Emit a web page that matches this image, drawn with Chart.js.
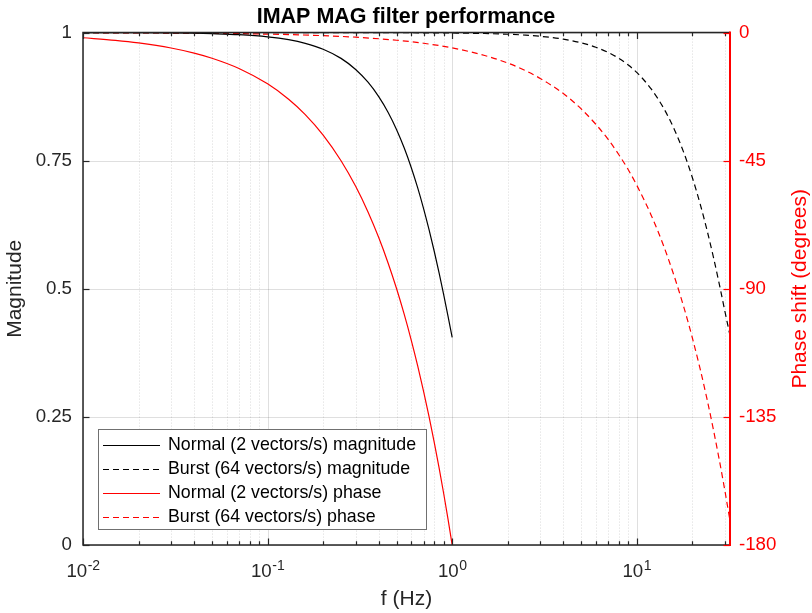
<!DOCTYPE html>
<html>
<head>
<meta charset="utf-8">
<title>IMAP MAG filter performance</title>
<script src="https://cdn.jsdelivr.net/npm/chart.js@4.4.1/dist/chart.umd.min.js"></script>
<style>
  html, body { margin: 0; padding: 0; background: #fff; }
  #wrap { width: 812px; height: 613px; position: relative; }
</style>
</head>
<body>
<div id="wrap"><canvas id="filterChart"></canvas></div>
<script>
// normal mode, 2 vectors/s (Nyquist 1 Hz)
const normalFreq = [0.01, 0.015, 0.02, 0.03, 0.04, 0.05, 0.07, 0.1, 0.13, 0.16, 0.2, 0.25, 0.3, 0.35,
  0.4, 0.45, 0.5, 0.55, 0.6, 0.65, 0.7, 0.75, 0.8, 0.85, 0.9, 0.95, 1.0];
const normalMag = [1.000, 0.9998, 0.9997, 0.9993, 0.9987, 0.9979, 0.9960, 0.9918, 0.9862, 0.9791, 0.9675,
  0.9497, 0.9281, 0.9032, 0.8751, 0.8442, 0.8106, 0.7747, 0.7368, 0.6974, 0.6566, 0.6150, 0.5728,
  0.5304, 0.4881, 0.4463, 0.4053];
const normalPhase = [-1.8, -2.7, -3.6, -5.4, -7.2, -9, -12.6, -18, -23.4, -28.8, -36, -45, -54, -63,
  -72, -81, -90, -99, -108, -117, -126, -135, -144, -153, -162, -171, -180];

// burst mode, 64 vectors/s (Nyquist 32 Hz)
const burstFreq = [0.01, 0.02, 0.05, 0.1, 0.2, 0.3, 0.5, 0.7, 1, 1.5, 2, 2.5, 3, 4, 5, 6, 7, 8, 9, 10,
  12, 14, 16, 18, 20, 22, 24, 26, 28, 30, 32];
const burstMag = [1, 1, 1, 1, 1, 1, 0.9998, 0.9996, 0.9992, 0.9982, 0.9968, 0.9950, 0.9928, 0.9872,
  0.9801, 0.9714, 0.9613, 0.9497, 0.9366, 0.9223, 0.8895, 0.8522, 0.8106, 0.7654, 0.7173, 0.6669,
  0.6150, 0.5622, 0.5092, 0.4567, 0.409];
const burstPhase = [-0.05, -0.11, -0.27, -0.54, -1.07, -1.61, -2.68, -3.75, -5.36, -8.04, -10.7, -13.4,
  -16.1, -21.4, -26.8, -32.2, -37.5, -42.9, -48.2, -53.6, -64.3, -75.0, -85.8, -96.5, -107.2, -117.9,
  -128.6, -139.4, -150.1, -160.8, -171.5];

const seriesLabels = [
  "Normal (2 vectors/s) magnitude",
  "Burst (64 vectors/s) magnitude",
  "Normal (2 vectors/s) phase",
  "Burst (64 vectors/s) phase"
];
const xTickExps = [-2, -1, 0, 1];
const magTicks = [0, 0.25, 0.5, 0.75, 1];
const phaseTicks = [-180, -135, -90, -45, 0];

const FONT = "'Liberation Sans', Arial, Helvetica, sans-serif";
const AXIS_GREY = "#262626";
const RED = "#ff0000";

const toPoints = (xs, ys) => xs.map((x, i) => ({ x: x, y: ys[i] }));

// every 1..9 x 10^n value inside the x range
function logSteps(scale) {
  const out = [];
  for (let e = -3; e <= 2; e++) {
    for (let m = 1; m <= 9; m++) {
      const v = m * Math.pow(10, e);
      if (v >= scale.min * 0.999 && v <= scale.max * 1.001) out.push({ v: v, major: m === 1 });
    }
  }
  return out;
}

// matlab-like box: grid under data, inward ticks, framed legend
const matlabAxes = {
  id: "matlabAxes",
  beforeDatasetsDraw(chart) {
    const { ctx, chartArea: a, scales: { x, y } } = chart;
    ctx.save();
    ctx.lineWidth = 1;
    // minor grid, dotted
    ctx.strokeStyle = "rgba(38,38,38,0.17)";
    ctx.setLineDash([1, 2]);
    logSteps(x).filter(s => !s.major).forEach(s => {
      const px = Math.round(x.getPixelForValue(s.v)) + 0.5;
      ctx.beginPath(); ctx.moveTo(px, a.top); ctx.lineTo(px, a.bottom); ctx.stroke();
    });
    // major grid
    ctx.setLineDash([]);
    ctx.strokeStyle = "rgba(38,38,38,0.15)";
    logSteps(x).filter(s => s.major).forEach(s => {
      const px = Math.round(x.getPixelForValue(s.v)) + 0.5;
      ctx.beginPath(); ctx.moveTo(px, a.top); ctx.lineTo(px, a.bottom); ctx.stroke();
    });
    magTicks.forEach(v => {
      const py = Math.round(y.getPixelForValue(v)) + 0.5;
      ctx.beginPath(); ctx.moveTo(a.left, py); ctx.lineTo(a.right, py); ctx.stroke();
    });
    ctx.restore();
  },
  afterDatasetsDraw(chart) {
    const { ctx, chartArea: a, scales: { x, y, y1 } } = chart;
    ctx.save();
    ctx.setLineDash([]);
    // frame
    ctx.strokeStyle = AXIS_GREY;
    ctx.lineWidth = 1.5;
    ctx.beginPath();
    ctx.moveTo(a.right, a.top); ctx.lineTo(a.left, a.top);
    ctx.lineTo(a.left, a.bottom); ctx.lineTo(a.right, a.bottom);
    ctx.stroke();
    // x ticks, top and bottom
    ctx.lineWidth = 1.2;
    logSteps(x).forEach(s => {
      const px = Math.round(x.getPixelForValue(s.v)) + 0.5;
      const len = s.major ? 6.5 : 3.7;
      ctx.beginPath();
      ctx.moveTo(px, a.bottom); ctx.lineTo(px, a.bottom - len);
      ctx.moveTo(px, a.top); ctx.lineTo(px, a.top + len);
      ctx.stroke();
    });
    // left ticks
    magTicks.forEach(v => {
      const py = Math.round(y.getPixelForValue(v)) + 0.5;
      ctx.beginPath(); ctx.moveTo(a.left, py); ctx.lineTo(a.left + 6.5, py); ctx.stroke();
    });
    // right axis in red
    ctx.strokeStyle = RED;
    ctx.lineWidth = 2;
    ctx.beginPath(); ctx.moveTo(a.right, a.top - 1); ctx.lineTo(a.right, a.bottom + 1); ctx.stroke();
    ctx.lineWidth = 1.2;
    phaseTicks.forEach(v => {
      const py = Math.round(y1.getPixelForValue(v)) + 0.5;
      ctx.beginPath(); ctx.moveTo(a.right, py); ctx.lineTo(a.right - 6.5, py); ctx.stroke();
    });

    // legend
    const lx = Math.round(a.left) + 15, ly = Math.round(a.bottom) - 116, lw = 328, lh = 100;
    ctx.fillStyle = "#ffffff";
    ctx.fillRect(lx, ly, lw, lh);
    ctx.strokeStyle = "#707070";
    ctx.lineWidth = 1;
    ctx.strokeRect(lx + 0.5, ly + 0.5, lw, lh);
    ctx.font = "17.8px " + FONT;
    ctx.textBaseline = "middle";
    ctx.textAlign = "left";
    chart.data.datasets.forEach((ds, i) => {
      const ry = ly + 16 + i * 24 + 0.5;
      ctx.strokeStyle = ds.borderColor;
      ctx.lineWidth = ds.borderWidth;
      ctx.setLineDash(ds.borderDash || []);
      ctx.beginPath(); ctx.moveTo(lx + 5, ry); ctx.lineTo(lx + 62, ry); ctx.stroke();
      ctx.fillStyle = "#000000";
      ctx.fillText(ds.label, lx + 70, ry);
    });
    ctx.restore();
  },
  afterDraw(chart) {
    const { ctx, chartArea: a, scales: { x } } = chart;
    ctx.save();
    // x tick labels as 10^n
    ctx.fillStyle = AXIS_GREY;
    ctx.textBaseline = "alphabetic";
    ctx.textAlign = "left";
    const baseFont = "18.7px " + FONT, expFont = "14px " + FONT;
    xTickExps.forEach(p => {
      const px = x.getPixelForValue(Math.pow(10, p));
      const expText = String(p);
      ctx.font = baseFont;
      const wBase = ctx.measureText("10").width;
      ctx.font = expFont;
      const wExp = ctx.measureText(expText).width;
      const start = px - (wBase + wExp) / 2;
      ctx.font = baseFont;
      ctx.fillText("10", start, a.bottom + 32);
      ctx.font = expFont;
      ctx.fillText(expText, start + wBase + 0.5, a.bottom + 25);
    });
    // right axis title, reading bottom to top
    ctx.fillStyle = RED;
    ctx.font = "21px " + FONT;
    ctx.textAlign = "center";
    ctx.textBaseline = "middle";
    ctx.translate(chart.width - 12, (a.top + a.bottom) / 2);
    ctx.rotate(-Math.PI / 2);
    ctx.fillText("Phase shift (degrees)", 0, 0);
    ctx.restore();
  }
};

new Chart(document.getElementById("filterChart"), {
  type: "line",
  data: {
    datasets: [
      {
        label: seriesLabels[0],
        data: toPoints(normalFreq, normalMag),
        yAxisID: "y",
        borderColor: "#000000",
        borderWidth: 1.2,
      },
      {
        label: seriesLabels[1],
        data: toPoints(burstFreq, burstMag),
        yAxisID: "y",
        borderColor: "#000000",
        borderWidth: 1.2,
        borderDash: [6, 4],
      },
      {
        label: seriesLabels[2],
        data: toPoints(normalFreq, normalPhase),
        yAxisID: "y1",
        borderColor: RED,
        borderWidth: 1.2,
      },
      {
        label: seriesLabels[3],
        data: toPoints(burstFreq, burstPhase),
        yAxisID: "y1",
        borderColor: RED,
        borderWidth: 1.2,
        borderDash: [6, 4],
      },
    ],
  },
  options: {
    responsive: true,
    maintainAspectRatio: false,
    animation: false,
    devicePixelRatio: 1,
    layout: { padding: 0 },
    elements: {
      point: { radius: 0, hoverRadius: 0 },
      line: { fill: false, cubicInterpolationMode: "monotone" },
    },
    plugins: {
      legend: { display: false },
      tooltip: { enabled: false },
      title: {
        display: true,
        text: "IMAP MAG filter performance",
        color: "#000000",
        font: { family: FONT, size: 21.5, weight: "bold" },
        padding: { top: 4.6, bottom: 2.2 },
      },
    },
    scales: {
      x: {
        type: "logarithmic",
        min: 0.01,
        max: 32,
        grid: { display: false, drawTicks: false },
        border: { display: false },
        ticks: { display: false },
        title: {
          display: true,
          text: "f (Hz)",
          color: AXIS_GREY,
          font: { family: FONT, size: 21 },
          padding: { top: 0, bottom: 1 },
        },
        afterFit: s => { s.height = 68; },
      },
      y: {
        position: "left",
        min: 0,
        max: 1,
        afterBuildTicks: s => { s.ticks = magTicks.map(v => ({ value: v })); },
        ticks: {
          color: AXIS_GREY,
          font: { family: FONT, size: 18.7 },
          padding: 11,
          callback: v => String(v),
        },
        grid: { display: false, drawTicks: false },
        border: { display: false },
        title: {
          display: true,
          text: "Magnitude",
          color: AXIS_GREY,
          font: { family: FONT, size: 21 },
          padding: { top: 3, bottom: 0 },
        },
        afterFit: s => { s.width = 83; },
      },
      y1: {
        position: "right",
        min: -180,
        max: 0,
        afterBuildTicks: s => { s.ticks = phaseTicks.map(v => ({ value: v })); },
        ticks: {
          color: RED,
          font: { family: FONT, size: 18.7 },
          padding: 9,
          callback: v => String(v),
        },
        grid: { display: false, drawTicks: false },
        border: { display: false },
        afterFit: s => { s.width = 82; },
      },
    },
  },
  plugins: [matlabAxes],
});
</script>
</body>
</html>
